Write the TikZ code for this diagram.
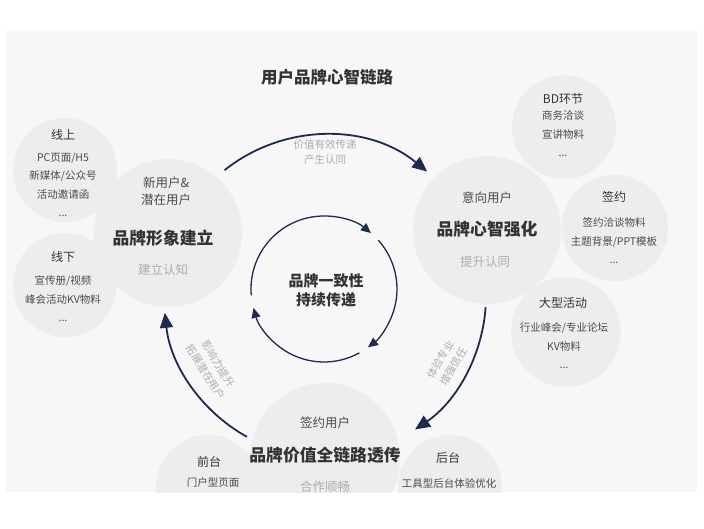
\documentclass[tikz,border=0pt]{standalone}
\usepackage{fontspec}
\setmainfont{Noto Sans CJK SC}
\usetikzlibrary{arrows.meta}
\definecolor{figInk}{HTML}{333333}
\definecolor{figMid}{HTML}{4A4A4A}
\definecolor{figSoft}{HTML}{ADADAD}
\definecolor{figNavy}{HTML}{1E2B4F}
\definecolor{figPaper}{HTML}{F7F7F7}
\definecolor{figDisc}{HTML}{EDEDED}

\begin{document}
\begin{tikzpicture}[x=1pt,y=1pt,
  disc/.style={circle,fill=figDisc,inner sep=0pt,minimum size=#1},
  head/.style={font=\fontsize{16.8}{20}\selectfont\bfseries,text=figInk},
  who/.style={font=\fontsize{12.5}{17}\selectfont,text=figMid,align=center},
  goal/.style={font=\fontsize{12.5}{15}\selectfont,text=figSoft},
  tag/.style={font=\fontsize{12}{14}\selectfont,text=figInk},
  item/.style={font=\fontsize{10.5}{18.5}\selectfont,text=figMid,align=center},
  flow/.style={font=\fontsize{10.5}{15}\selectfont,text=figSoft,align=center},
  ring/.style={line width=1.8pt,figNavy,-{Triangle[length=15pt,width=13pt]}},
  core/.style={line width=1.3pt,figNavy,-{Triangle[length=10pt,width=9pt]}}]
\useasboundingbox (0,0) rectangle (704,528);
\fill[figPaper] (6,36) rectangle (697,498);

% discs
\begin{scope}
\clip (6,36) rectangle (697,498);
\node[disc=104pt] (online) at (65,358) {};
\node[disc=104pt] (offline) at (65,243) {};
\node[disc=148pt] (build) at (168,295) {};
\node[disc=104pt] (bd) at (564,401) {};
\node[disc=106pt] (sign) at (615,300) {};
\node[disc=110pt] (event) at (566,196) {};
\node[disc=148pt] (boost) at (487,298) {};
\node[disc=104pt] (front) at (208,41) {};
\node[disc=104pt] (back) at (450,41) {};
\node[disc=150pt] (spread) at (325,70) {};
\end{scope}

\node[font=\fontsize{16.5}{19}\selectfont\bfseries,text=figInk] (title) at (327,451) {用户品牌心智链路};

% left
\node[who] (buildwho) at (166,337) {新用户\&\\潜在用户};
\node[head] (buildhead) at (163,290) {品牌形象建立};
\node[goal] (buildgoal) at (163,258) {建立认知};
\node[tag] (onlinetag) at (63,393) {线上};
\node[item] (onlineitem) at (63,343) {PC页面/H5\\新媒体/公众号\\活动邀请函\\...};
\node[tag] (offlinetag) at (63,271) {线下};
\node[item] (offlineitem) at (63,229) {宣传册/视频\\峰会活动KV物料\\...};

% right
\node[who] (boostwho) at (487,330) {意向用户};
\node[head] (boosthead) at (487,299) {品牌心智强化};
\node[goal] (boostgoal) at (485,266) {提升认同};
\node[tag] (bdtag) at (563,429) {BD环节};
\node[item] (bditem) at (563,394) {商务洽谈\\宣讲物料\\...};
\node[tag] (signtag) at (614,331) {签约};
\node[item] (signitem) at (614,287) {签约洽谈物料\\主题背景/PPT模板\\...};
\node[tag] (eventtag) at (563,225) {大型活动};
\node[item] (eventitem) at (564,182) {行业峰会/专业论坛\\KV物料\\...};

% bottom
\node[who] (spreadwho) at (325,105) {签约用户};
\node[head] (spreadhead) at (325,73) {品牌价值全链路透传};
\node[goal] (spreadgoal) at (325,41) {合作顺畅};
\node[tag] (fronttag) at (209,66) {前台};
\node[item] (frontitem) at (213,45) {门户型页面};
\node[tag] (backtag) at (448,70) {后台};
\node[item] (backitem) at (449,45) {工具型后台体验优化};

% outer cycle
\coordinate (hub) at (325,232);
\draw[ring] ([shift={(128.6:161)}]hub) arc[start angle=128.6,end angle=50.6,radius=161];
\draw[ring] ([shift={(-4:161)}]hub) arc[start angle=-4,end angle=-56,radius=161];
\draw[ring] ([shift={(241:161)}]hub) arc[start angle=241,end angle=186,radius=161];
\node[flow] (topflow) at (325,376) {价值有效传递\\产生认同};
\node[flow,rotate=60] (rightflow) at (447,165) {体验专业\\增强信任};
\node[flow,rotate=-58] (leftflow) at (212,160) {影响力提升\\拓展潜在用户};

% inner cycle
\coordinate (core) at (324,239);
\draw[core] ([shift={(185:73)}]core) arc[start angle=185,end angle=50,radius=73];
\draw[core] ([shift={(42:73)}]core) arc[start angle=42,end angle=-53,radius=73];
\draw[core] ([shift={(-61:73)}]core) arc[start angle=-61,end angle=-165,radius=73];
\node[font=\fontsize{15}{19}\selectfont\bfseries,text=figInk,align=center] (coretext) at (326,238) {品牌一致性\\持续传递};
\end{tikzpicture}
\end{document}
